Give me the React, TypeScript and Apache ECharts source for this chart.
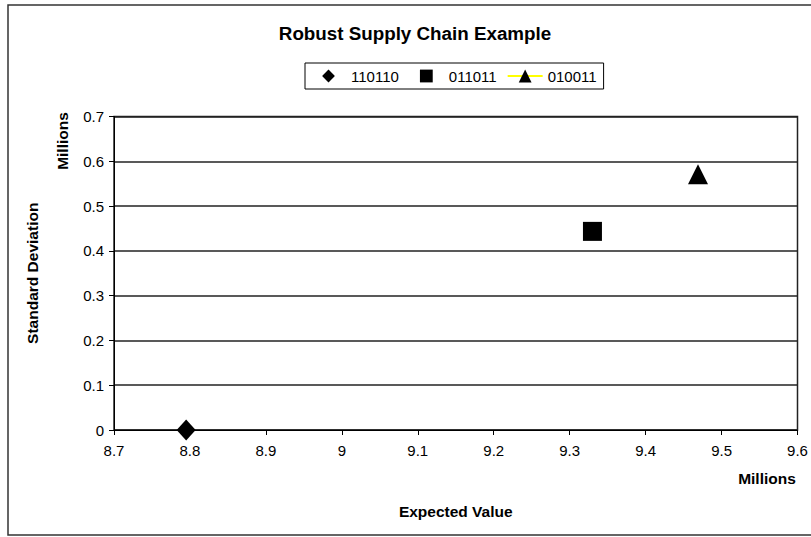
import React, { useEffect, useRef } from "react";
import * as echarts from "echarts";

const chartTitle = "Robust Supply Chain Example";
const seriesNames = ["110110", "011011", "010011"];
const seriesSymbols = ["diamond", "rect", "triangle"];
const expectedValues = [8.795, 9.33, 9.469];
const stdDeviations = [0.0, 0.4435, 0.571];
const xAxisTitle = "Expected Value";
const yAxisTitle = "Standard Deviation";
const unitLabel = "Millions";

const FONT = 'Arial, "Liberation Sans", sans-serif';

export default function App() {
  const ref = useRef<HTMLDivElement>(null);
  useEffect(() => {
    if (!ref.current) return;
    const chart = echarts.init(ref.current, null, { renderer: "svg" });
    const symbolSizes: any[] = [[19, 21], 19, [20, 20]];
    const series: any[] = seriesNames.map((name, i) => ({
      name,
      type: "line",
      data: [[expectedValues[i], stdDeviations[i]]],
      symbol: seriesSymbols[i],
      symbolSize: symbolSizes[i],
      itemStyle: { color: "#000", opacity: 1 },
      lineStyle: i === 2 ? { color: "#ffff00", width: 1.5 } : { opacity: 0, width: 0 },
      showSymbol: true,
      z: 3,
    }));
    chart.setOption({
      animation: false,
      backgroundColor: "#fff",
      textStyle: { fontFamily: FONT },
      grid: {
        left: 114,
        right: 13.5,
        top: 116.5,
        bottom: 107,
        show: true,
        borderColor: "#222",
        borderWidth: 1.5,
        containLabel: false,
      },
      legend: {
        data: seriesNames,
        left: 305,
        top: 63,
        orient: "horizontal",
        padding: [5, 7, 5, 6],
        itemGap: 10,
        itemWidth: 35,
        itemHeight: 16,
        borderColor: "#000",
        borderWidth: 1,
        textStyle: { fontSize: 15, color: "#000", fontFamily: FONT, lineHeight: 16 },
        selectedMode: false,
      },
      xAxis: {
        type: "value",
        min: 8.7,
        max: 9.6,
        interval: 0.1,
        name: xAxisTitle,
        nameLocation: "middle",
        nameGap: 73,
        nameTextStyle: { fontSize: 15.5, fontWeight: "bold", color: "#000", fontFamily: FONT },
        axisLine: { show: true, lineStyle: { color: "#000", width: 1 } },
        axisTick: { show: true, inside: false, length: 5, lineStyle: { color: "#000" } },
        axisLabel: { fontSize: 15, color: "#000", margin: 13, fontFamily: FONT },
        splitLine: { show: false },
      },
      yAxis: {
        type: "value",
        min: 0,
        max: 0.7,
        interval: 0.1,
        name: yAxisTitle,
        nameLocation: "middle",
        nameGap: 74,
        nameRotate: 90,
        nameTextStyle: { fontSize: 15.5, fontWeight: "bold", color: "#000", fontFamily: FONT },
        axisLine: { show: true, lineStyle: { color: "#000", width: 1 } },
        axisTick: { show: true, inside: false, length: 5, lineStyle: { color: "#000" } },
        axisLabel: { fontSize: 15, color: "#000", margin: 10, fontFamily: FONT },
        splitLine: { show: true, lineStyle: { color: "#222", width: 1.5 } },
      },
      graphic: [
        {
          type: "rect",
          shape: { x: 8, y: 5, width: 840, height: 530 },
          style: { fill: "none", stroke: "#333", lineWidth: 1.5 },
          silent: true,
          z: 0,
        },
        {
          type: "text",
          x: 415,
          y: 33,
          style: {
            text: chartTitle,
            fontSize: 18.8,
            fontWeight: "bold",
            fontFamily: FONT,
            fill: "#000",
            textAlign: "center",
            textVerticalAlign: "middle",
          },
        },
        {
          type: "text",
          x: 62,
          y: 141,
          rotation: Math.PI / 2,
          style: {
            text: unitLabel,
            fontSize: 15.5,
            fontWeight: "bold",
            fontFamily: FONT,
            fill: "#000",
            textAlign: "center",
            textVerticalAlign: "middle",
          },
        },
        {
          type: "text",
          x: 767,
          y: 478,
          style: {
            text: unitLabel,
            fontSize: 15.5,
            fontWeight: "bold",
            fontFamily: FONT,
            fill: "#000",
            textAlign: "center",
            textVerticalAlign: "middle",
          },
        },
      ],
      series,
    });
    return () => chart.dispose();
  }, []);
  return (
    <div
      ref={ref}
      style={{ position: "fixed", left: 0, top: 0, width: 811, height: 537 }}
    />
  );
}
